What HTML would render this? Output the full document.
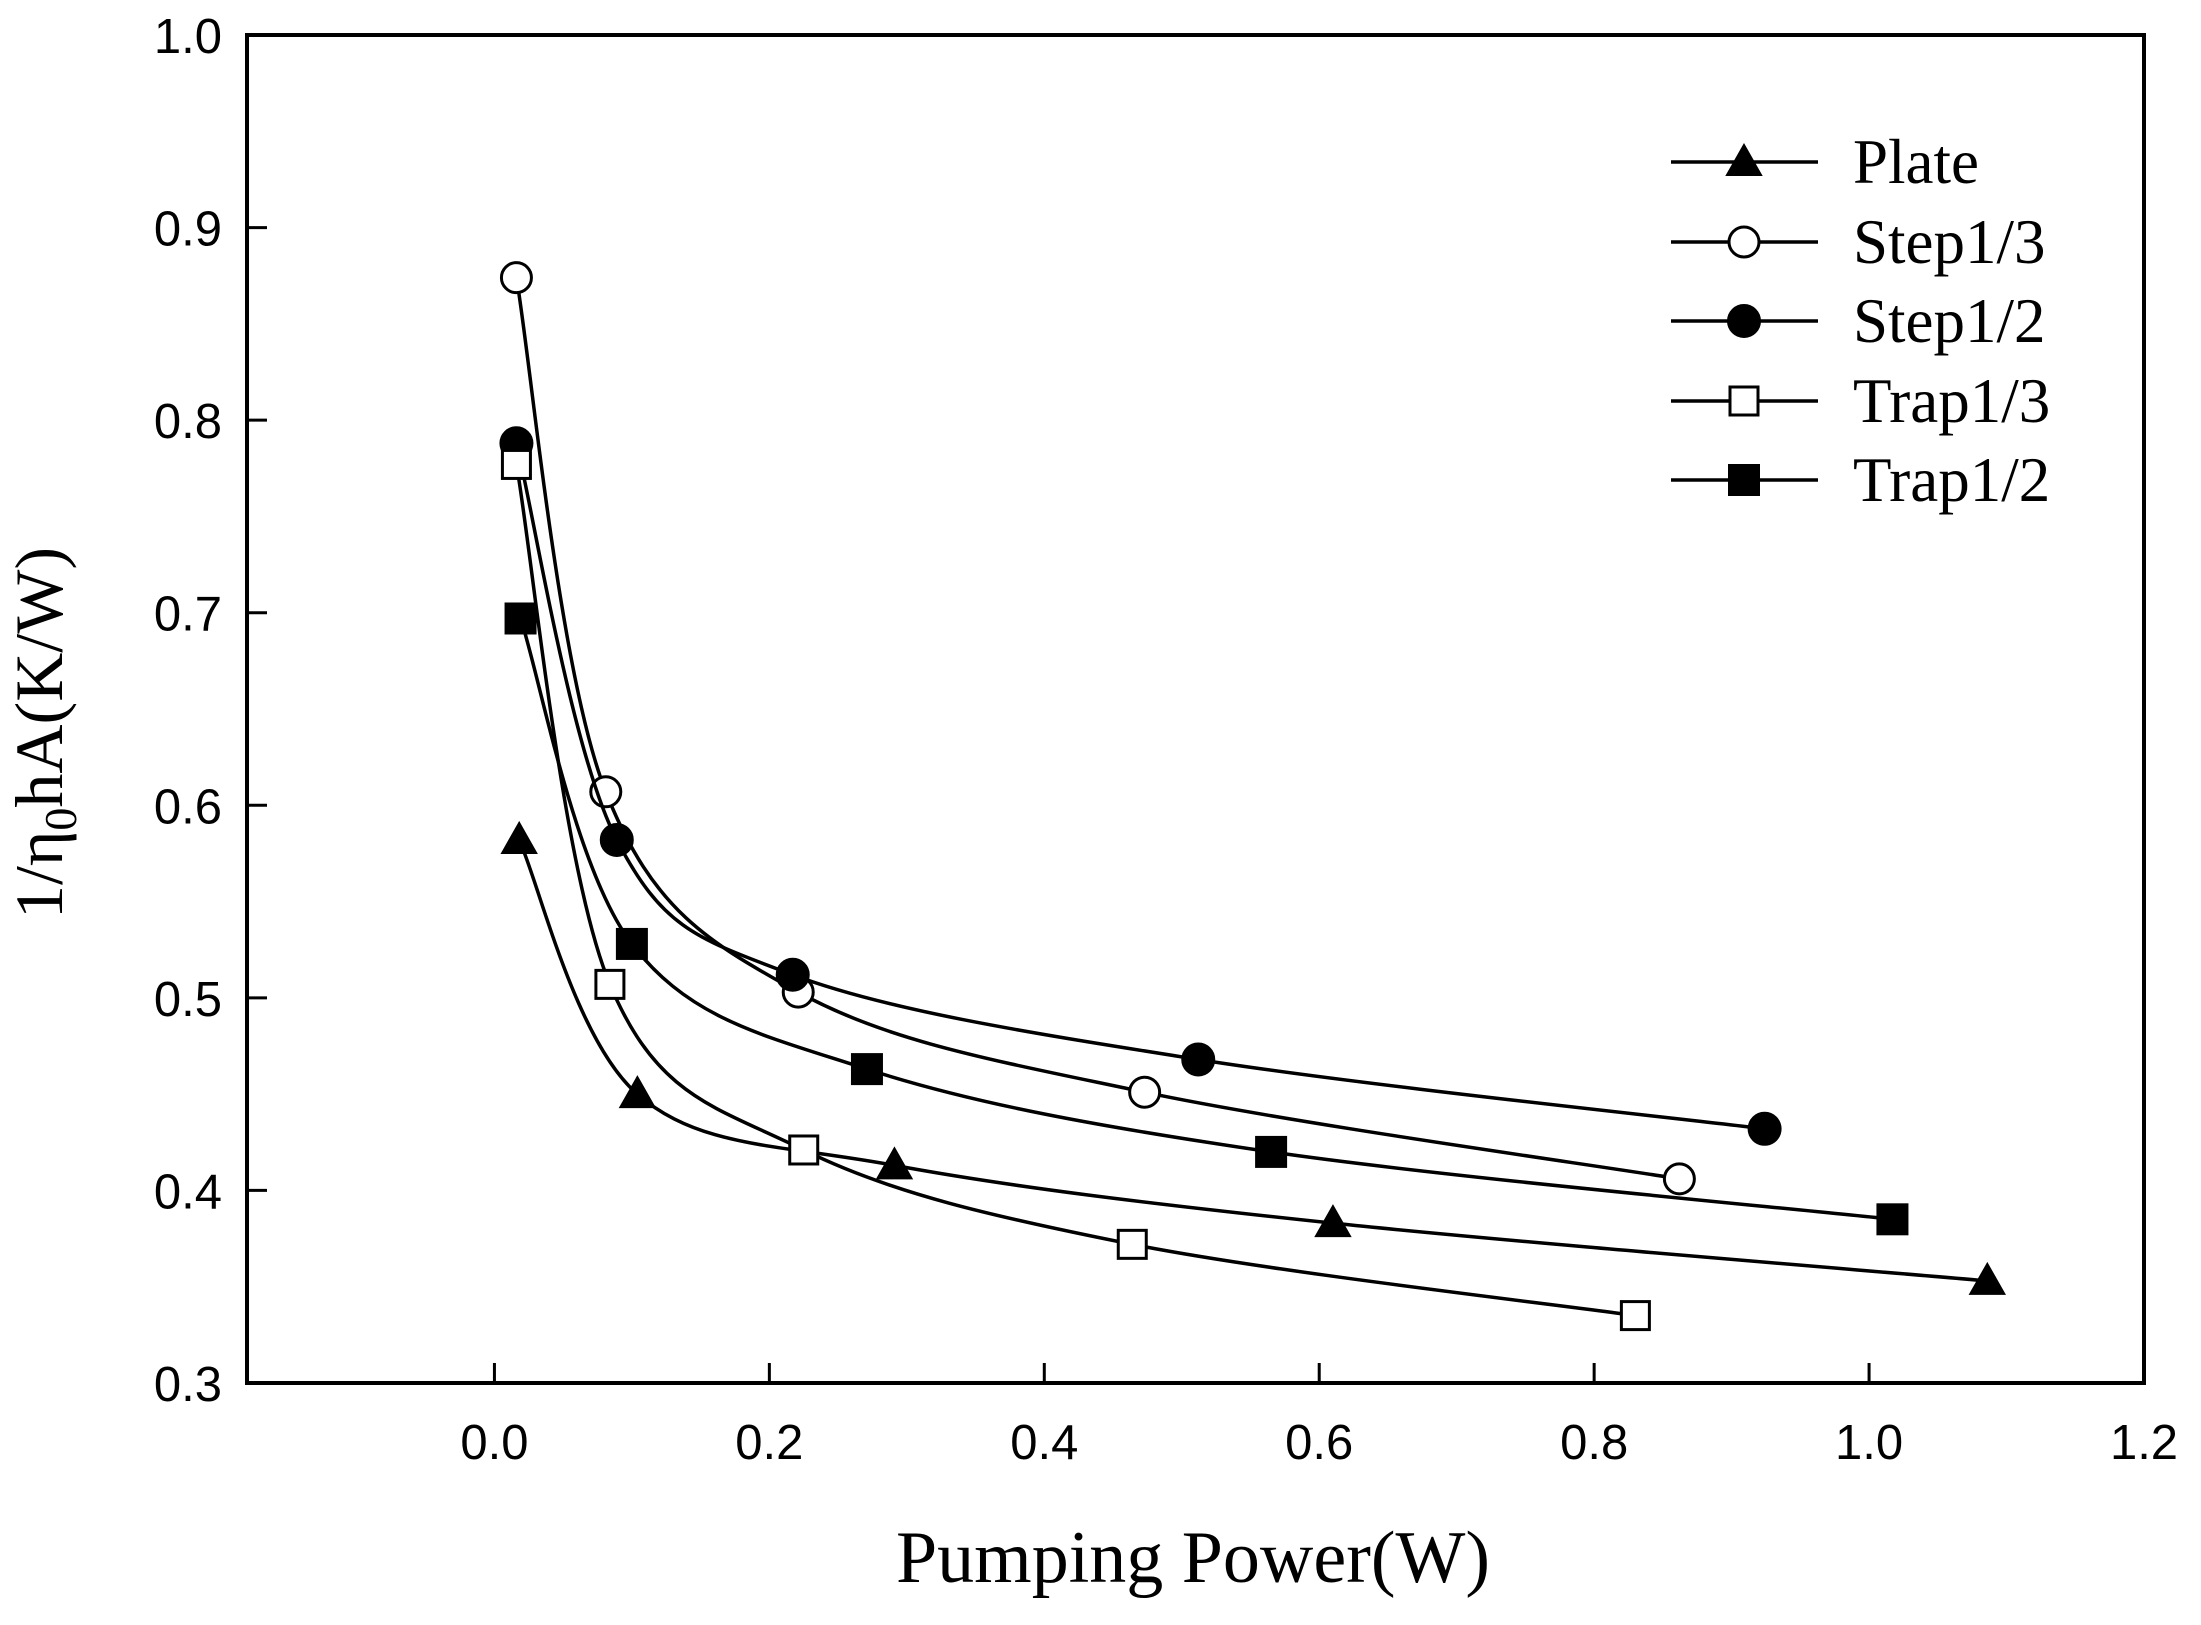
<!DOCTYPE html>
<html><head><meta charset="utf-8"><style>
html,body{margin:0;padding:0;background:#fff;}
svg text{fill:#000;}
</style></head><body>
<svg id="chart" width="2201" height="1620" xmlns="http://www.w3.org/2000/svg">
<g id="axes"></g>
<g id="series"></g>
<g id="legend"></g>
<text x="1193" y="1582" text-anchor="middle" font-family="Liberation Serif, serif" font-size="74">Pumping Power(W)</text>
<text transform="translate(62,733) rotate(-90)" text-anchor="middle" font-family="Liberation Serif, serif" font-size="68">1/η<tspan font-size="46" dy="14">0</tspan><tspan dy="-14">hA(K/W)</tspan></text>
</svg>
<script>
const xTicks=[0.0,0.2,0.4,0.6,0.8,1.0,1.2];
const xTickLabels=["0.0","0.2","0.4","0.6","0.8","1.0","1.2"];
const yTicks=[0.3,0.4,0.5,0.6,0.7,0.8,0.9,1.0];
const yTickLabels=["0.3","0.4","0.5","0.6","0.7","0.8","0.9","1.0"];
const seriesNames=["Plate","Step1/3","Step1/2","Trap1/3","Trap1/2"];
const seriesMarkers=["triangle","circle-open","circle","square-open","square"];
const plateX=[0.018,0.104,0.291,0.610,1.086];
const plateY=[0.582,0.450,0.413,0.383,0.353];
const step13X=[0.016,0.081,0.221,0.473,0.862];
const step13Y=[0.874,0.607,0.503,0.451,0.406];
const step12X=[0.016,0.089,0.217,0.512,0.924];
const step12Y=[0.788,0.582,0.512,0.468,0.432];
const trap13X=[0.016,0.084,0.225,0.464,0.830];
const trap13Y=[0.777,0.507,0.421,0.372,0.335];
const trap12X=[0.019,0.100,0.271,0.565,1.017];
const trap12Y=[0.697,0.528,0.463,0.420,0.385];
const seriesXs=[plateX,step13X,step12X,trap13X,trap12X];
const seriesYs=[plateY,step13Y,step12Y,trap13Y,trap12Y];

const NS="http://www.w3.org/2000/svg";
const L=247,R=2144,T=35,B=1383,xmin=-0.18,xmax=1.2,ymin=0.3,ymax=1.0;
const sx=v=>L+(v-xmin)/(xmax-xmin)*(R-L);
const sy=v=>B-(v-ymin)/(ymax-ymin)*(B-T);
function mk(tag,attrs,parent){const e=document.createElementNS(NS,tag);for(const k in attrs)e.setAttribute(k,attrs[k]);parent.appendChild(e);return e;}
const axes=document.getElementById('axes');
const frame=mk('rect',{x:L,y:T,width:R-L,height:B-T,fill:'none',stroke:'#000','stroke-width':4},axes);


xTicks.forEach((v,i)=>{
 const t=mk('line',{x1:sx(v),x2:sx(v),y1:B,y2:B-20,stroke:'#000','stroke-width':3},axes);
 
 
 const lb=mk('text',{x:sx(v),y:1459,'text-anchor':'middle','font-family':'Liberation Sans, sans-serif','font-size':49},axes);
 lb.textContent=xTickLabels[i];
 
 
});
yTicks.forEach((v,i)=>{
 const t=mk('line',{x1:L,x2:L+20,y1:sy(v),y2:sy(v),stroke:'#000','stroke-width':3},axes);
 
 
 const lb=mk('text',{x:222,y:sy(v)+18,'text-anchor':'end','font-family':'Liberation Sans, sans-serif','font-size':49},axes);
 lb.textContent=yTickLabels[i];
 
 
});
function marker(type,cx,cy,parent){
 let e;
 if(type==='triangle')e=mk('polygon',{points:`${cx},${cy-17} ${cx-17},${cy+13} ${cx+17},${cy+13}`,fill:'#000',stroke:'#000','stroke-width':2},parent);
 else if(type==='circle')e=mk('circle',{cx,cy,r:16,fill:'#000',stroke:'#000','stroke-width':2},parent);
 else if(type==='circle-open')e=mk('circle',{cx,cy,r:15,fill:'#fff',stroke:'#000','stroke-width':3},parent);
 else if(type==='square')e=mk('rect',{x:cx-15,y:cy-15,width:30,height:30,fill:'#000',stroke:'#000','stroke-width':2},parent);
 else e=mk('rect',{x:cx-14,y:cy-14,width:28,height:28,fill:'#fff',stroke:'#000','stroke-width':3},parent);
 return e;
}
function spline(pts){
 let d=`M${pts[0][0]},${pts[0][1]}`;
 for(let i=0;i<pts.length-1;i++){
  const p0=pts[Math.max(0,i-1)],p1=pts[i],p2=pts[i+1],p3=pts[Math.min(pts.length-1,i+2)];
  const c1=[p1[0]+(p2[0]-p0[0])/6,p1[1]+(p2[1]-p0[1])/6];
  const c2=[p2[0]-(p3[0]-p1[0])/6,p2[1]-(p3[1]-p1[1])/6];
  d+=` C${c1[0]},${c1[1]} ${c2[0]},${c2[1]} ${p2[0]},${p2[1]}`;
 }
 return d;
}
const sg=document.getElementById('series');
seriesNames.forEach((n,s)=>{
 const g=mk('g',{},sg);
 
 
 const pts=seriesXs[s].map((x,i)=>[sx(x),sy(seriesYs[s][i])]);
 const p=mk('path',{d:spline(pts),fill:'none',stroke:'#000','stroke-width':3.5},g);
 
 
 pts.forEach(q=>{
  const m=marker(seriesMarkers[s],q[0],q[1],g);
  
  
 });
});
const lg=document.getElementById('legend');
const rows=[162,242,321,401,480];
seriesNames.forEach((n,s)=>{
 const g=mk('g',{},lg);
 
 
 mk('line',{x1:1671,x2:1818,y1:rows[s],y2:rows[s],stroke:'#000','stroke-width':3.5},g);
 marker(seriesMarkers[s],1744,rows[s],g);
 const t=mk('text',{x:1853,y:rows[s]+21,'font-family':'Liberation Serif, serif','font-size':63},g);
 t.textContent=n;
});
</script>
</body></html>
